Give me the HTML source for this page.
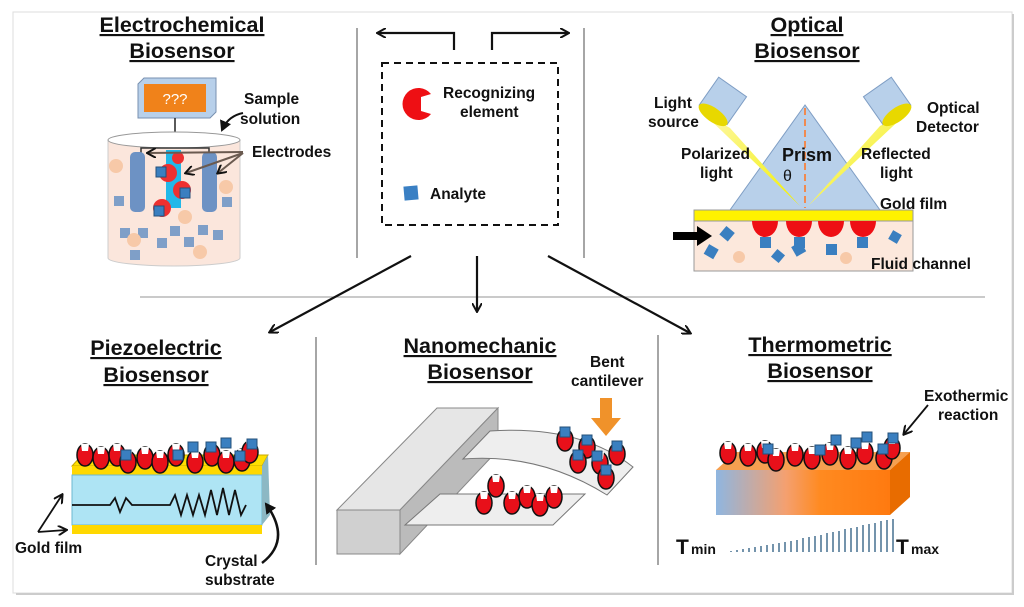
<!DOCTYPE html>
<html><head><meta charset="utf-8"><style>
html,body{margin:0;padding:0;background:#fff}
svg{display:block}
text{font-family:"Liberation Sans",sans-serif;font-weight:bold;fill:#111}
.t{font-size:21.5px;text-anchor:middle;text-decoration:underline}
.l{font-size:15.5px}
</style></head><body>
<svg width="1024" height="607" viewBox="0 0 1024 607" xmlns="http://www.w3.org/2000/svg">
<defs>
<marker id="ah" markerWidth="10" markerHeight="10" refX="8" refY="5" orient="auto" markerUnits="userSpaceOnUse"><path d="M0,0 L9,5 L0,10" fill="none" stroke="#111" stroke-width="2"/></marker>
<marker id="ah2" markerWidth="12" markerHeight="12" refX="9" refY="6" orient="auto" markerUnits="userSpaceOnUse"><path d="M0,0 L11,6 L0,12 Z" fill="#111"/></marker>
<linearGradient id="tg" x1="0" x2="1"><stop offset="0" stop-color="#8fb6e0"/><stop offset="0.4" stop-color="#f4a070"/><stop offset="0.6" stop-color="#ff8a20"/><stop offset="1" stop-color="#ff7a10"/></linearGradient>
<linearGradient id="bm" x1="0" y1="0" x2="1" y2="1"><stop offset="0" stop-color="#fff8b0"/><stop offset="1" stop-color="#f2f000"/></linearGradient>
<g id="re"><ellipse cx="0" cy="0" rx="8" ry="11" fill="#e8101a" stroke="#111" stroke-width="1.5"/><path d="M-4,-11 L4,-11 L3,-4 L-3,-4Z" fill="#fff"/></g>
<g id="an"><rect x="-5" y="-5" width="10" height="10" fill="#3a7fc0" stroke="#24507a" stroke-width="1"/></g>
</defs>
<rect x="13" y="12" width="999" height="581" fill="#fff" stroke="#ddd"/>
<line x1="16" y1="594" x2="1014" y2="594" stroke="#ccc" stroke-width="2"/>
<line x1="1013" y1="14" x2="1013" y2="594" stroke="#ccc" stroke-width="2"/>
<!-- dividers -->
<line x1="357" y1="28" x2="357" y2="258" stroke="#777" stroke-width="1.3"/>
<line x1="584" y1="28" x2="584" y2="258" stroke="#777" stroke-width="1.3"/>
<line x1="140" y1="297" x2="985" y2="297" stroke="#aaa" stroke-width="1.3"/>
<line x1="316" y1="337" x2="316" y2="565" stroke="#777" stroke-width="1.3"/>
<line x1="658" y1="335" x2="658" y2="565" stroke="#777" stroke-width="1.3"/>
<!-- arrows -->
<path d="M454,50 V33 H378" fill="none" stroke="#111" stroke-width="2.2" marker-end="url(#ah)"/>
<path d="M492,50 V33 H568" fill="none" stroke="#111" stroke-width="2.2" marker-end="url(#ah)"/>
<line x1="411" y1="256" x2="270" y2="332" stroke="#111" stroke-width="2.2" marker-end="url(#ah)"/>
<line x1="477" y1="256" x2="477" y2="311" stroke="#111" stroke-width="2.2" marker-end="url(#ah)"/>
<line x1="548" y1="256" x2="690" y2="333" stroke="#111" stroke-width="2.2" marker-end="url(#ah)"/>
<!-- center box -->
<rect x="382" y="63" width="176" height="162" fill="none" stroke="#111" stroke-width="2" stroke-dasharray="7,5"/>
<path d="M431,94 A16,16 0 1 0 431,114 L421,111 L421,97 Z" fill="#ee0f14"/>
<text class="l" x="443" y="98">Recognizing</text><text class="l" x="460" y="117">element</text>
<rect x="404" y="186" width="14" height="14" fill="#3a80c4" transform="rotate(-5 411 193)"/>
<text class="l" x="430" y="199">Analyte</text>
<!-- electrochemical -->
<text class="t" x="182" y="32">Electrochemical</text>
<text class="t" x="182" y="58">Biosensor</text>
<path d="M138,84 L144,78 L216,78 L216,112 L210,118 L138,118 Z" fill="#b8d0ea" stroke="#7890b0"/>
<rect x="144" y="84" width="62" height="28" fill="#f0821a"/>
<text x="175" y="104" style="fill:#fff;font-weight:normal;font-size:15px" text-anchor="middle">???</text>
<line x1="175" y1="118" x2="175" y2="148" stroke="#222" stroke-width="1.5"/>
<path d="M108,140 V258 A66,8 0 0 0 240,258 V140" fill="#fbe6dc" stroke="#ccc"/>
<ellipse cx="174" cy="140" rx="66" ry="8" fill="#fff" stroke="#999"/>
<path d="M141,160 V148 H209 V160" fill="none" stroke="#333" stroke-width="1.5"/>
<rect x="130" y="152" width="15" height="60" rx="5" fill="#6d92c4"/>
<rect x="202" y="152" width="15" height="60" rx="5" fill="#6d92c4"/>
<rect x="166" y="150" width="15" height="58" fill="#22b8e8"/>
<circle cx="178" cy="158" r="6" fill="#ee3030"/><circle cx="168" cy="173" r="9" fill="#ee3030"/><circle cx="182" cy="190" r="9" fill="#ee3030"/><circle cx="162" cy="208" r="9" fill="#ee3030"/>
<use href="#an" x="161" y="172"/><use href="#an" x="185" y="193"/><use href="#an" x="159" y="211"/>
<g fill="#7f9fc8"><rect x="114" y="196" width="10" height="10"/><rect x="120" y="228" width="10" height="10"/><rect x="138" y="228" width="10" height="10"/><rect x="170" y="226" width="10" height="10"/><rect x="198" y="225" width="10" height="10"/><rect x="213" y="230" width="10" height="10"/><rect x="157" y="238" width="10" height="10"/><rect x="184" y="237" width="10" height="10"/><rect x="130" y="250" width="10" height="10"/><rect x="222" y="197" width="10" height="10"/></g>
<g fill="#f7c9a8"><circle cx="116" cy="166" r="7"/><circle cx="226" cy="187" r="7"/><circle cx="185" cy="217" r="7"/><circle cx="134" cy="240" r="7"/><circle cx="200" cy="252" r="7"/></g>
<text class="l" x="244" y="104">Sample</text><text class="l" x="240" y="124">solution</text>
<path d="M243,113 Q228,116 222,130" fill="none" stroke="#111" stroke-width="2" marker-end="url(#ah2)"/>
<text class="l" x="252" y="157">Electrodes</text>
<g stroke="#6a5a50" stroke-width="2" fill="none"><line x1="243" y1="152" x2="148" y2="153" marker-end="url(#ah)"/><line x1="243" y1="153" x2="186" y2="173" marker-end="url(#ah)"/><line x1="243" y1="153" x2="218" y2="173" marker-end="url(#ah)"/></g>
<!-- optical -->
<text class="t" x="807" y="32">Optical</text><text class="t" x="807" y="58">Biosensor</text>
<polygon points="805,105 730,210 880,210" fill="#b8d0ea" stroke="#7e9dc4"/>
<line x1="805" y1="108" x2="805" y2="208" stroke="#f08a50" stroke-width="2" stroke-dasharray="7,4"/>
<polygon points="702,112 730,128 800,206" fill="url(#bm)"/>
<polygon points="908,112 880,126 808,206" fill="url(#bm)"/>
<g transform="rotate(35 720 105)"><rect x="703" y="83" width="34" height="34" fill="#b8d0ea" stroke="#7e9dc4"/><ellipse cx="720" cy="117" rx="17" ry="7" fill="#e8d800"/></g>
<g transform="rotate(-35 890 105)"><rect x="873" y="83" width="34" height="34" fill="#b8d0ea" stroke="#7e9dc4"/><ellipse cx="890" cy="117" rx="17" ry="7" fill="#e8d800"/></g>
<text class="l" x="654" y="108">Light</text><text class="l" x="648" y="127">source</text>
<text class="l" x="927" y="113">Optical</text><text class="l" x="916" y="132">Detector</text>
<text class="l" x="681" y="159">Polarized</text><text class="l" x="700" y="178">light</text>
<text class="l" x="861" y="159">Reflected</text><text class="l" x="880" y="178">light</text>
<text x="782" y="161" style="font-size:18px">Prism</text><text x="783" y="181" style="font-size:16px;font-weight:normal">θ</text>
<text class="l" x="880" y="209">Gold film</text>
<rect x="694" y="210" width="219" height="11" fill="#fff200" stroke="#999"/>
<rect x="694" y="221" width="219" height="50" fill="#fce8dc" stroke="#999"/>
<g fill="#ee0f14"><path d="M752,221 h26 a13,16 0 0 1 -26,0 z"/><path d="M786,221 h26 a13,16 0 0 1 -26,0 z"/><path d="M818,221 h26 a13,16 0 0 1 -26,0 z"/><path d="M850,221 h26 a13,16 0 0 1 -26,0 z"/></g>
<g fill="#3a7fc0"><rect x="760" y="237" width="11" height="11"/><rect x="794" y="237" width="11" height="11"/><rect x="826" y="244" width="11" height="11"/><rect x="857" y="237" width="11" height="11"/><rect x="722" y="228" width="11" height="11" transform="rotate(40 727 233)"/><rect x="706" y="246" width="11" height="11" transform="rotate(30 711 251)"/><rect x="773" y="251" width="10" height="10" transform="rotate(40 778 256)"/><rect x="793" y="244" width="11" height="11" transform="rotate(-30 798 249)"/><rect x="890" y="232" width="10" height="10" transform="rotate(30 895 237)"/></g>
<circle cx="739" cy="257" r="6" fill="#f7c9a8"/><circle cx="846" cy="258" r="6" fill="#f7c9a8"/>
<polygon points="673,232 697,232 697,226 712,236 697,246 697,240 673,240" fill="#000"/>
<text class="l" x="871" y="269">Fluid channel</text>
<!-- piezo -->
<text class="t" x="156" y="355">Piezoelectric</text><text class="t" x="156" y="382">Biosensor</text>
<polygon points="72,466 82,455 268,455 262,466" fill="#ffe000" stroke="#c8a800"/>
<rect x="72" y="466" width="190" height="9" fill="#ffd800"/>
<rect x="72" y="475" width="190" height="50" fill="#aee4f4" stroke="#6cb8d0"/>
<polygon points="262,466 268,455 270,515 262,525" fill="#8cb8c4"/>
<rect x="72" y="525" width="190" height="9" fill="#ffd800"/>
<polyline points="72,505 110,505 115,498 120,512 126,498 132,505 170,505 175,495 181,515 187,495 193,515 199,495 205,515 211,490 217,515 223,488 229,515 235,490 241,515 246,505" fill="none" stroke="#111" stroke-width="1.8"/>
<g>
<use href="#re" x="85" y="455"/><use href="#re" x="101" y="458"/><use href="#re" x="117" y="455"/><use href="#re" x="128" y="462"/><use href="#re" x="145" y="458"/><use href="#re" x="160" y="462"/><use href="#re" x="176" y="455"/><use href="#re" x="195" y="462"/><use href="#re" x="212" y="455"/><use href="#re" x="226" y="462"/><use href="#re" x="242" y="460"/><use href="#re" x="250" y="452"/>
<use href="#an" x="126" y="455"/><use href="#an" x="178" y="455"/><use href="#an" x="193" y="447"/><use href="#an" x="211" y="447"/><use href="#an" x="226" y="443"/><use href="#an" x="240" y="456"/><use href="#an" x="252" y="444"/>
</g>
<text class="l" x="15" y="553">Gold film</text>
<path d="M38,532 L62,495" stroke="#111" stroke-width="1.8" marker-end="url(#ah)"/><path d="M38,532 L66,530" stroke="#111" stroke-width="1.8" marker-end="url(#ah)"/>
<text class="l" x="205" y="566">Crystal</text><text class="l" x="205" y="585">substrate</text>
<path d="M262,563 Q292,540 266,504" fill="none" stroke="#111" stroke-width="2.5" marker-end="url(#ah2)"/>
<!-- nanomechanic -->
<text class="t" x="480" y="353">Nanomechanic</text><text class="t" x="480" y="379">Biosensor</text>
<polygon points="337,510 437,408 498,408 400,510" fill="#e6e6e6" stroke="#888"/>
<polygon points="337,510 400,510 400,554 337,554" fill="#d0d0d0" stroke="#888"/>
<polygon points="400,510 498,408 498,450 400,554" fill="#bbb" stroke="#888"/>
<polygon points="405,525 440,494 585,494 553,525" fill="#eee" stroke="#777"/>
<path d="M463,459 L490,431 Q580,425 633,467 L607,495 Q540,453 463,459 Z" fill="#eee" stroke="#777"/>
<use href="#re" x="496" y="486"/><use href="#re" x="512" y="503"/><use href="#re" x="527" y="497"/><use href="#re" x="540" y="505"/><use href="#re" x="554" y="497"/><use href="#re" x="484" y="503"/>
<use href="#re" x="565" y="440"/><use href="#re" x="587" y="447"/><use href="#re" x="617" y="454"/><use href="#re" x="578" y="462"/><use href="#re" x="600" y="463"/><use href="#re" x="606" y="478"/>
<use href="#an" x="565" y="432"/><use href="#an" x="587" y="440"/><use href="#an" x="617" y="446"/><use href="#an" x="578" y="455"/><use href="#an" x="597" y="456"/><use href="#an" x="606" y="470"/>
<text class="l" x="590" y="367">Bent</text><text class="l" x="571" y="386">cantilever</text>
<polygon points="600,398 612,398 612,418 621,418 606,436 591,418 600,418" fill="#f0922a"/>
<!-- thermometric -->
<text class="t" x="820" y="352">Thermometric</text><text class="t" x="820" y="378">Biosensor</text>
<polygon points="716,470 736,452 910,452 890,470" fill="#f6a050"/>
<rect x="716" y="470" width="174" height="45" fill="url(#tg)"/>
<polygon points="890,470 910,452 910,497 890,515" fill="#e86c00"/>
<use href="#re" x="728" y="453"/><use href="#re" x="748" y="455"/><use href="#re" x="765" y="452"/><use href="#re" x="776" y="460"/><use href="#re" x="795" y="455"/><use href="#re" x="812" y="458"/><use href="#re" x="830" y="454"/><use href="#re" x="848" y="458"/><use href="#re" x="865" y="453"/><use href="#re" x="884" y="458"/><use href="#re" x="892" y="448"/>
<use href="#an" x="768" y="449"/><use href="#an" x="820" y="450"/><use href="#an" x="836" y="440"/><use href="#an" x="856" y="443"/><use href="#an" x="867" y="437"/><use href="#an" x="883" y="449"/><use href="#an" x="893" y="438"/>
<text class="l" x="924" y="401">Exothermic</text><text class="l" x="938" y="420">reaction</text>
<line x1="928" y1="405" x2="904" y2="434" stroke="#111" stroke-width="1.8" marker-end="url(#ah)"/>
<text x="676" y="554" style="font-size:21px">T</text><text x="691" y="554" style="font-size:14px">min</text>
<g stroke="#2a5a80" stroke-width="1.3">
<line x1="731" y1="552" x2="731" y2="551"/><line x1="737" y1="552" x2="737" y2="550"/><line x1="743" y1="552" x2="743" y2="549"/><line x1="749" y1="552" x2="749" y2="548"/><line x1="755" y1="552" x2="755" y2="547"/><line x1="761" y1="552" x2="761" y2="546"/><line x1="767" y1="552" x2="767" y2="545"/><line x1="773" y1="552" x2="773" y2="544"/><line x1="779" y1="552" x2="779" y2="543"/><line x1="785" y1="552" x2="785" y2="542"/><line x1="791" y1="552" x2="791" y2="541"/><line x1="797" y1="552" x2="797" y2="540"/><line x1="803" y1="552" x2="803" y2="538"/><line x1="809" y1="552" x2="809" y2="537"/><line x1="815" y1="552" x2="815" y2="536"/><line x1="821" y1="552" x2="821" y2="535"/><line x1="827" y1="552" x2="827" y2="533"/><line x1="833" y1="552" x2="833" y2="532"/><line x1="839" y1="552" x2="839" y2="531"/><line x1="845" y1="552" x2="845" y2="529"/><line x1="851" y1="552" x2="851" y2="528"/><line x1="857" y1="552" x2="857" y2="527"/><line x1="863" y1="552" x2="863" y2="525"/><line x1="869" y1="552" x2="869" y2="524"/><line x1="875" y1="552" x2="875" y2="523"/><line x1="881" y1="552" x2="881" y2="521"/><line x1="887" y1="552" x2="887" y2="520"/><line x1="893" y1="552" x2="893" y2="519"/>
</g>
<text x="896" y="554" style="font-size:21px">T</text><text x="911" y="554" style="font-size:14px">max</text>
</svg>
</body></html>
